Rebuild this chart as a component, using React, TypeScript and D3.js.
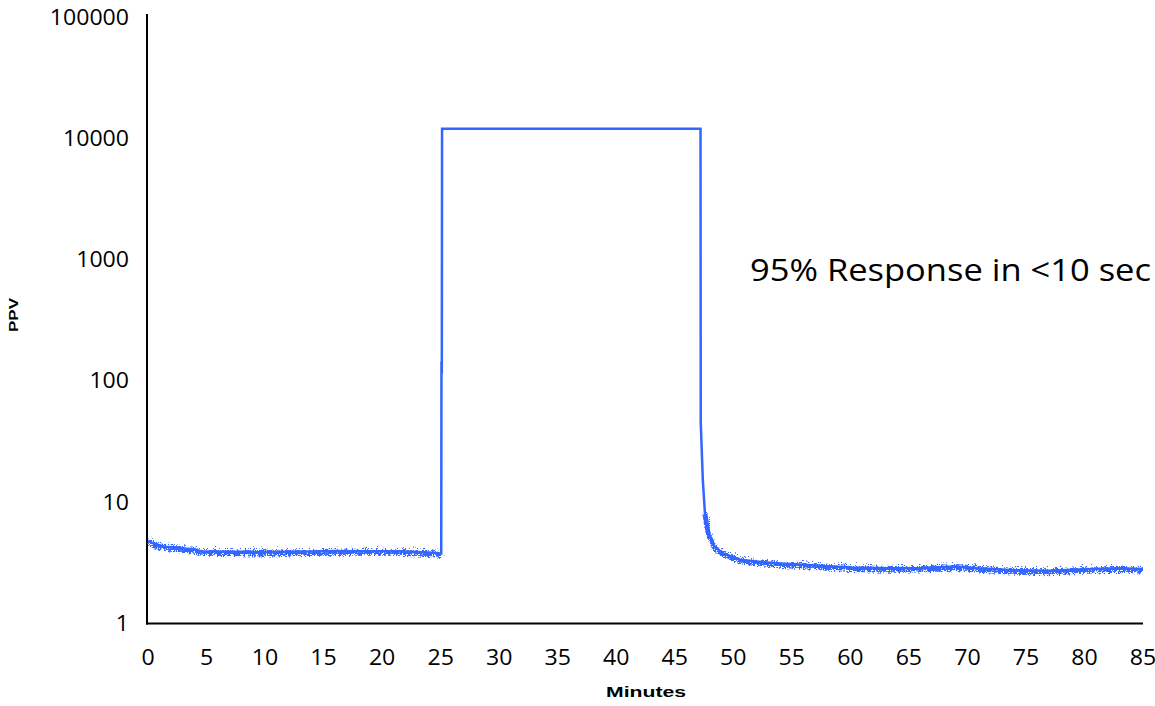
import React from "react";
import * as d3 from "d3";

// Time axis (minutes) and measured PPV readings
const minutes = [
  0, 0.5, 1, 1.5, 2, 3, 4, 4.5, 6, 8, 10, 12, 14, 16, 18, 20, 22, 24, 25.05,
  25.07, 25.1, 25.12, 47.2, 47.22, 47.4, 47.58, 47.87, 48.4, 49.1, 50.6, 53.4,
  56.3, 60, 63, 66, 69, 71, 74, 77, 80, 83, 85,
];
const ppv = [
  4.8, 4.55, 4.4, 4.3, 4.25, 4.15, 4.1, 3.95, 3.92, 3.9, 3.88, 3.9, 3.93, 3.96,
  3.95, 3.95, 3.92, 3.85, 3.78, 145, 115, 12000, 12000, 45, 15, 8.1, 5.6, 4.3,
  3.8, 3.35, 3.15, 3.03, 2.9, 2.85, 2.87, 2.95, 2.85, 2.75, 2.72, 2.8, 2.85,
  2.82,
];

const xTicks = [0, 5, 10, 15, 20, 25, 30, 35, 40, 45, 50, 55, 60, 65, 70, 75, 80, 85];
const yTicks = [1, 10, 100, 1000, 10000, 100000];

const annotation = "95% Response in <10 sec";
const xTitle = "Minutes";
const yTitle = "PPV";

const W = 1155;
const H = 706;
const BLUE = "#3366ff";

export default function App() {
  const x = d3.scaleLinear().domain([0, 85]).range([148, 1143]);
  const y = d3.scaleLog().domain([1, 100000]).range([623.5, 17]);

  const pts: [number, number][] = minutes.map((m, i) => [m, ppv[i]]);
  const line = d3
    .line<[number, number]>()
    .x((d) => x(d[0]))
    .y((d) => y(d[1]));

  // the steady-state stretches carry sensor noise
  const before = pts.filter((d) => d[0] <= 25.05);
  const after = pts.filter((d) => d[0] >= 47.58);

  const tickFont = "'Open Sans', sans-serif";

  return (
    <svg
      width={W}
      height={H}
      style={{ position: "absolute", left: 0, top: 0, background: "#fff" }}
    >
      <defs>
        <filter
          id="noise"
          filterUnits="userSpaceOnUse"
          x={0}
          y={0}
          width={W}
          height={H}
        >
          <feTurbulence
            type="turbulence"
            baseFrequency="0.9 0.5"
            numOctaves={2}
            seed={5}
            result="turb"
          />
          <feComponentTransfer in="turb" result="map">
            <feFuncR type="linear" slope={0} intercept={0.5} />
            <feFuncG type="linear" slope={1.6} intercept={-0.05} />
          </feComponentTransfer>
          <feDisplacementMap
            in="SourceGraphic"
            in2="map"
            scale={6}
            xChannelSelector="R"
            yChannelSelector="G"
          />
        </filter>
      </defs>

      {/* axes */}
      <line x1={147} x2={147} y1={14} y2={624.5} stroke="#000" strokeWidth={2} />
      <line x1={146} x2={1143} y1={623.5} y2={623.5} stroke="#000" strokeWidth={2} />

      {/* y tick labels */}
      {yTicks.map((t) => {
        const s = String(t);
        return (
          <text
            key={t}
            x={129}
            y={y(t)}
            dy="0.36em"
            textAnchor="end"
            fontFamily={tickFont}
            fontSize={21}
            textLength={s.length * 13.2}
            lengthAdjust="spacingAndGlyphs"
            fill="#000"
          >
            {s}
          </text>
        );
      })}

      {/* x tick labels */}
      {xTicks.map((t) => {
        const s = String(t);
        return (
          <text
            key={t}
            x={x(t)}
            y={665}
            textAnchor="middle"
            fontFamily={tickFont}
            fontSize={21}
            textLength={s.length * 13.2}
            lengthAdjust="spacingAndGlyphs"
            fill="#000"
          >
            {s}
          </text>
        );
      })}

      {/* axis titles */}
      <text
        x={646}
        y={697}
        textAnchor="middle"
        fontFamily="'Liberation Sans', Arial, sans-serif"
        fontWeight="bold"
        fontSize={15}
        textLength={80}
        lengthAdjust="spacingAndGlyphs"
      >
        {xTitle}
      </text>
      <text
        transform="translate(18,315) rotate(-90)"
        textAnchor="middle"
        fontFamily="'Liberation Sans', Arial, sans-serif"
        fontWeight="bold"
        fontSize={12}
        textLength={34}
        lengthAdjust="spacingAndGlyphs"
      >
        {yTitle}
      </text>

      {/* series */}
      <path d={line(pts) ?? ""} fill="none" stroke={BLUE} strokeWidth={2.5} />
      <g filter="url(#noise)">
        <path d={line(before) ?? ""} fill="none" stroke={BLUE} strokeWidth={5} />
        <path d={line(after) ?? ""} fill="none" stroke={BLUE} strokeWidth={5} />
      </g>

      {/* annotation */}
      <text
        x={750}
        y={281}
        fontFamily={tickFont}
        fontSize={31}
        textLength={401}
        lengthAdjust="spacingAndGlyphs"
        fill="#000"
      >
        {annotation}
      </text>
    </svg>
  );
}
